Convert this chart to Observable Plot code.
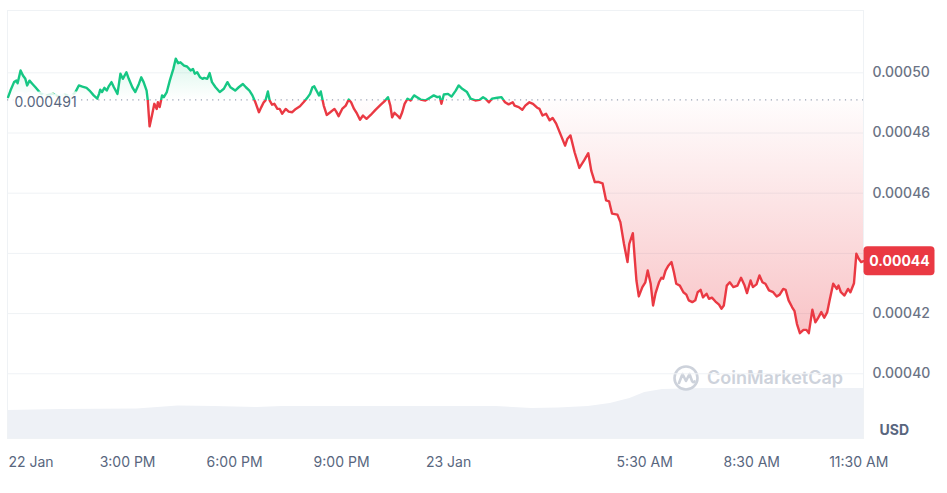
<!DOCTYPE html>
<html><head><meta charset="utf-8">
<script src="https://cdn.jsdelivr.net/npm/d3@7"></script>
<script src="https://cdn.jsdelivr.net/npm/@observablehq/plot@0.6"></script>
<style>
body{margin:0;background:#fff;font-family:Inter,"Noto Sans",sans-serif;}
#wrap{position:relative;width:947px;height:493px;overflow:hidden;background:#fff;}
#wrap > svg{position:absolute;left:0;top:0;}
#wm{position:absolute;left:672px;top:364px;display:flex;align-items:center;gap:7px;color:#cdd2db;font-size:18px;font-weight:600;font-family:Inter,sans-serif;line-height:26px;}
</style></head><body><div id="wrap"></div>
<script>
// minutes since 22 Jan 00:00 (UTC)
const minutes = [699,703,709,713,715,720,724,728,731,735,740,745,754,764,774,784,794,804,812,818,824,831,836,843,849,852,854,857,861,865,868,873,877,883,888,892,898,902,908,913,919,923,927,932,934,937,941,945,949,951,954,958,961,966,971,977,981,985,989,995,1000,1006,1010,1013,1017,1022,1026,1029,1034,1038,1042,1048,1055,1062,1068,1073,1081,1087,1094,1099,1105,1110,1115,1121,1125,1129,1132,1136,1139,1143,1147,1152,1156,1160,1166,1171,1177,1183,1190,1196,1202,1207,1211,1214,1219,1222,1225,1230,1235,1241,1248,1251,1255,1261,1267,1272,1276,1281,1286,1291,1296,1302,1309,1317,1326,1332,1338,1342,1345,1349,1354,1358,1362,1366,1371,1376,1382,1387,1393,1401,1410,1415,1421,1425,1428,1432,1439,1445,1452,1457,1463,1471,1477,1485,1492,1498,1502,1508,1513,1522,1529,1535,1541,1548,1551,1558,1564,1569,1576,1582,1589,1593,1598,1604,1610,1615,1621,1628,1636,1640,1645,1652,1660,1668,1675,1680,1686,1693,1699,1705,1710,1715,1724,1729,1735,1741,1744,1750,1753,1756,1760,1766,1771,1775,1780,1784,1788,1794,1798,1801,1805,1810,1815,1819,1823,1829,1835,1840,1844,1850,1855,1859,1864,1868,1874,1878,1883,1889,1895,1899,1903,1908,1913,1919,1926,1932,1938,1942,1948,1952,1958,1963,1968,1973,1979,1986,1992,1997,2003,2007,2012,2018,2022,2026,2031,2037,2042,2046,2052,2057,2061,2067,2072,2077,2081,2087,2093,2096,2100,2106,2112,2116,2122,2126,2130,2134,2138];
const prices = [0.0004919,0.0004941,0.0004969,0.0004974,0.0004965,0.0005008,0.0004991,0.0004980,0.0004958,0.0004974,0.0004963,0.0004952,0.0004931,0.0004925,0.0004931,0.0004921,0.0004928,0.0004921,0.0004935,0.0004958,0.0004954,0.0004950,0.0004941,0.0004925,0.0004914,0.0004930,0.0004944,0.0004936,0.0004950,0.0004941,0.0004954,0.0004969,0.0004952,0.0004930,0.0004997,0.0004980,0.0005002,0.0004980,0.0004952,0.0004936,0.0004963,0.0004985,0.0004969,0.0004941,0.0004908,0.0004822,0.0004858,0.0004897,0.0004880,0.0004902,0.0004886,0.0004925,0.0004919,0.0004936,0.0004974,0.0005013,0.0005047,0.0005032,0.0005035,0.0005024,0.0005021,0.0005008,0.0005013,0.0004997,0.0005002,0.0004985,0.0004980,0.0004983,0.0004980,0.0004999,0.0004969,0.0004952,0.0004936,0.0004947,0.0004969,0.0004952,0.0004941,0.0004952,0.0004963,0.0004952,0.0004941,0.0004925,0.0004902,0.0004869,0.0004886,0.0004902,0.0004908,0.0004938,0.0004908,0.0004894,0.0004897,0.0004880,0.0004880,0.0004864,0.0004880,0.0004871,0.0004869,0.0004880,0.0004889,0.0004902,0.0004916,0.0004930,0.0004952,0.0004955,0.0004936,0.0004925,0.0004938,0.0004891,0.0004860,0.0004869,0.0004880,0.0004871,0.0004856,0.0004880,0.0004891,0.0004911,0.0004902,0.0004880,0.0004864,0.0004844,0.0004858,0.0004847,0.0004860,0.0004877,0.0004894,0.0004905,0.0004919,0.0004891,0.0004852,0.0004867,0.0004858,0.0004849,0.0004869,0.0004897,0.0004914,0.0004908,0.0004925,0.0004919,0.0004911,0.0004908,0.0004919,0.0004925,0.0004919,0.0004921,0.0004897,0.0004928,0.0004930,0.0004921,0.0004941,0.0004958,0.0004947,0.0004936,0.0004914,0.0004908,0.0004910,0.0004919,0.0004914,0.0004902,0.0004914,0.0004917,0.0004919,0.0004902,0.0004895,0.0004902,0.0004891,0.0004886,0.0004877,0.0004891,0.0004902,0.0004897,0.0004884,0.0004880,0.0004858,0.0004864,0.0004842,0.0004850,0.0004831,0.0004797,0.0004758,0.0004781,0.0004792,0.0004736,0.0004684,0.0004709,0.0004733,0.0004675,0.0004637,0.0004637,0.0004633,0.0004576,0.0004573,0.0004532,0.0004529,0.0004504,0.0004432,0.0004371,0.0004432,0.0004467,0.0004387,0.0004310,0.0004257,0.0004288,0.0004304,0.0004343,0.0004299,0.0004227,0.0004266,0.0004304,0.0004319,0.0004316,0.0004343,0.0004360,0.0004371,0.0004338,0.0004299,0.0004293,0.0004271,0.0004263,0.0004244,0.0004238,0.0004244,0.0004271,0.0004279,0.0004254,0.0004266,0.0004249,0.0004253,0.0004240,0.0004230,0.0004216,0.0004227,0.0004293,0.0004304,0.0004288,0.0004293,0.0004319,0.0004293,0.0004268,0.0004310,0.0004288,0.0004297,0.0004327,0.0004304,0.0004299,0.0004277,0.0004271,0.0004257,0.0004263,0.0004282,0.0004279,0.0004244,0.0004221,0.0004208,0.0004166,0.0004135,0.0004146,0.0004146,0.0004135,0.0004213,0.0004171,0.0004183,0.0004205,0.0004186,0.0004205,0.0004244,0.0004299,0.0004282,0.0004293,0.0004271,0.0004260,0.0004282,0.0004271,0.0004301,0.0004399,0.0004382,0.0004371,0.0004374];
// trading volume (arbitrary units, millions)
const volMinutes = [698,790,916,985,1046,1118,1160,1520,1580,1625,1675,1712,1745,1770,1800,1870,2138];
const volumes = [19.6,20.3,20.7,22.8,22.4,21.7,22.4,22.4,21.0,21.4,22.4,24.5,28.0,32.2,34.3,35.0,35.0];
const referencePrice = 0.000491;
const yTicks = [0.0004,0.00042,0.00044,0.00046,0.00048,0.0005];
const xTickMinutes = [900,1080,1260,1440,1770,1950,2130];
const xTickLabels = ["3:00 PM","6:00 PM","9:00 PM","23 Jan","5:30 AM","8:30 AM","11:30 AM"];
const firstLabel = "22 Jan";
const unitLabel = "USD";

const DAY0 = Date.UTC(2025,0,22);
const toDate = m => new Date(DAY0 + m*60000);
const data = minutes.map((m,i)=>({t: toDate(m), p: prices[i]}));
const vol = volMinutes.map((m,i)=>({t: toDate(m), v: volumes[i]}));
const xTicks = xTickMinutes.map((m,i)=>({t: toDate(m), label: xTickLabels[i]}));
const last = data[data.length-1];
const fmt5 = d3.format(".5f");
// the price tag hides the tick label it sits on
const visibleYTicks = yTicks.filter(v => Math.abs(v - last.p) > 0.000006);

const common = {
  width: 947, height: 493,
  marginLeft: 7, marginRight: 84, marginTop: 10, marginBottom: 55,
  style: {fontFamily: "Inter, 'Noto Sans', sans-serif", background: "transparent"}
};
const xDomain = [toDate(698), toDate(2138)];

const volPlot = Plot.plot({
  ...common,
  x: {type: "utc", domain: xDomain, axis: null},
  y: {domain: [0, 300], axis: null},
  marks: [
    Plot.areaY(vol, {x: "t", y: "v", fill: "#eef1f6"})
  ]
});

const pricePlot = Plot.plot({
  ...common,
  x: {type: "utc", domain: xDomain, axis: null},
  y: {domain: [0.0003785, 0.0005207], axis: null},
  marks: [
    Plot.ruleY(yTicks, {stroke: "#eff2f5", strokeWidth: 1}),
    Plot.frame({stroke: "#eff2f5"}),
    Plot.areaY(data, {x: "t", y1: referencePrice, y2: d => Math.max(d.p, referencePrice), fill: "url(#gGreen)"}),
    Plot.areaY(data, {x: "t", y1: referencePrice, y2: d => Math.min(d.p, referencePrice), fill: "url(#gRed)"}),
    Plot.ruleY([referencePrice], {stroke: "#98a1b3", strokeWidth: 1.2, strokeDasharray: "1.2,4.5"}),
    Plot.line(data, {x: "t", y: "p", stroke: "#16c784", strokeWidth: 2.4, strokeLinejoin: "round"}),
    Plot.line(data, {x: "t", y: "p", stroke: "#ea3943", strokeWidth: 2.4, strokeLinejoin: "round"}),
    Plot.text([referencePrice], {x: () => xDomain[0], y: d => d, text: d => d3.format(".6f")(d), textAnchor: "start", dx: 7, dy: 3,
      fill: "#58667e", fontSize: 14, stroke: "white", strokeWidth: 9, strokeOpacity: 0.85}),
    Plot.text(visibleYTicks, {y: d => d, text: fmt5, frameAnchor: "right", textAnchor: "start", dx: 9, fill: "#6b7385", fontSize: 14, fontWeight: 500}),
    Plot.text(xTicks, {x: "t", text: "label", frameAnchor: "bottom", dy: 28, fill: "#58667e", fontSize: 14}),
    Plot.text([firstLabel], {x: () => xDomain[0], text: d => d, frameAnchor: "bottom", dy: 28, dx: 1, textAnchor: "start", fill: "#58667e", fontSize: 14}),
    Plot.text([unitLabel], {frameAnchor: "bottom-right", text: d => d, dx: 16, dy: -4, textAnchor: "start", fill: "#58667e", fontSize: 14, fontWeight: 700}),
    Plot.text([last], {x: "t", y: "p", text: d => fmt5(d.p), dx: 36, fill: "white", fontSize: 14, fontWeight: 700})
  ]
});

const ns = "http://www.w3.org/2000/svg";
const ys = pricePlot.scale("y"), xs = pricePlot.scale("x");
const yb = ys.apply(referencePrice);
const defs = document.createElementNS(ns, "defs");
defs.innerHTML = `
<linearGradient id="gRed" x1="0" y1="0" x2="0" y2="1">
 <stop offset="0" stop-color="#ea3943" stop-opacity="0.01"/>
 <stop offset="1" stop-color="#ea3943" stop-opacity="0.3"/>
</linearGradient>
<linearGradient id="gGreen" x1="0" y1="0" x2="0" y2="1">
 <stop offset="0" stop-color="#16c784" stop-opacity="0.16"/>
 <stop offset="1" stop-color="#16c784" stop-opacity="0.0"/>
</linearGradient>
<clipPath id="cAbove"><rect x="0" y="0" width="947" height="${yb}"/></clipPath>
<clipPath id="cBelow"><rect x="0" y="${yb}" width="947" height="${493 - yb}"/></clipPath>`;
pricePlot.prepend(defs);
const lines = pricePlot.querySelectorAll('g[aria-label="line"]');
lines[0].setAttribute("clip-path", "url(#cAbove)");
lines[1].setAttribute("clip-path", "url(#cBelow)");

// price tag box behind the last text
const texts = pricePlot.querySelectorAll('g[aria-label="text"]');
const lastText = texts[texts.length - 1];
const lx = xs.apply(last.t), ly = ys.apply(last.p);
const rect = document.createElementNS(ns, "rect");
rect.setAttribute("x", lx + 0.5);
rect.setAttribute("y", ly - 14.5);
rect.setAttribute("width", 71);
rect.setAttribute("height", 29);
rect.setAttribute("rx", 4);
rect.setAttribute("fill", "#ea3943");
lastText.parentNode.insertBefore(rect, lastText);

const wrap = document.getElementById("wrap");
wrap.appendChild(volPlot);
const wm = document.createElement("div");
wm.id = "wm";
wm.innerHTML = `<svg width="28" height="28" viewBox="0 0 28 28"><circle cx="14" cy="14" r="11.5" fill="none" stroke="#cdd2db" stroke-width="2.6"/><path d="M7 19 L10.5 10 L14 17 L17.5 10 L20 17 Q21 19 22.5 17.5" fill="none" stroke="#cdd2db" stroke-width="2.6" stroke-linejoin="round" stroke-linecap="round"/></svg><span>CoinMarketCap</span>`;
wrap.appendChild(wm);
wrap.appendChild(pricePlot);
</script></body></html>
